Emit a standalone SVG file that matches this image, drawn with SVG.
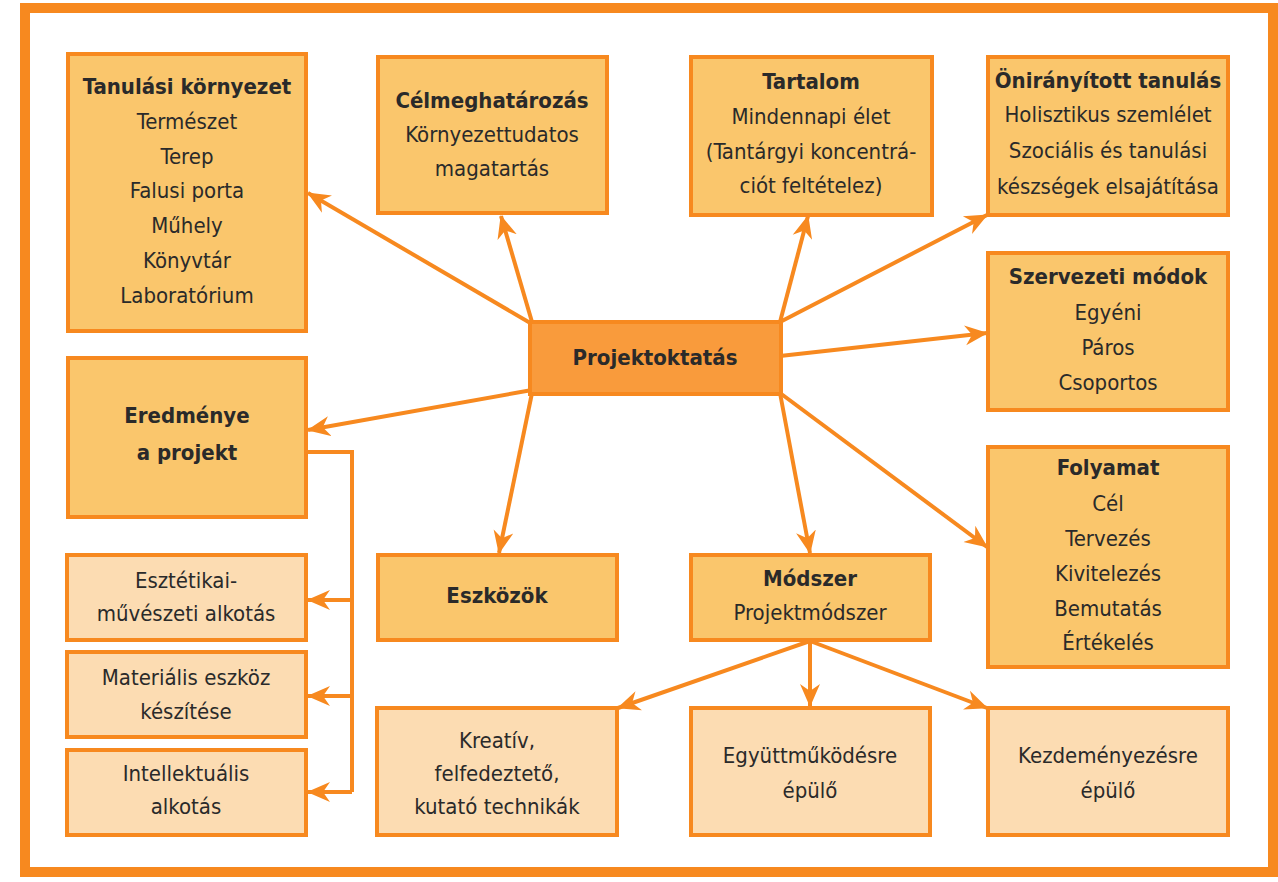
<svg xmlns="http://www.w3.org/2000/svg" width="1278" height="882" viewBox="0 0 1278 882">
<style>
.bx{fill:#fac66c;stroke:#f7891f;stroke-width:4}
.lt{fill:#fcdcb2;stroke:#f7891f;stroke-width:4}
.ct{fill:#f99b3c;stroke:#f7891f;stroke-width:4}
text{font-family:"DejaVu Sans Condensed","DejaVu Sans",sans-serif;font-size:22px;fill:#2a2a2a;text-anchor:middle}
.h{font-weight:bold}
.c line,.c path{stroke:#f7891f;stroke-width:4;fill:none}
</style>
<defs>
<marker id="a" markerUnits="userSpaceOnUse" markerWidth="26" markerHeight="22" refX="22" refY="11" orient="auto">
<path d="M0,1 L23,11 L0,21 L7,11 z" fill="#f7891f"/>
</marker>
</defs>
<rect x="25" y="8" width="1248" height="864" fill="#fff" stroke="#f7891f" stroke-width="10"/>
<g class="c">
<line x1="532" y1="324" x2="308" y2="193" marker-end="url(#a)"/>
<line x1="532" y1="322" x2="501" y2="216" marker-end="url(#a)"/>
<line x1="780" y1="322" x2="808" y2="216" marker-end="url(#a)"/>
<line x1="780" y1="322" x2="987" y2="215" marker-end="url(#a)"/>
<line x1="780" y1="356" x2="987" y2="333" marker-end="url(#a)"/>
<line x1="780" y1="393" x2="987" y2="547" marker-end="url(#a)"/>
<line x1="780" y1="393" x2="810" y2="553" marker-end="url(#a)"/>
<line x1="532" y1="393" x2="499" y2="553" marker-end="url(#a)"/>
<line x1="532" y1="390" x2="308" y2="430" marker-end="url(#a)"/>
<path d="M306,452 H352 V792"/>
<line x1="352" y1="600" x2="308" y2="600" marker-end="url(#a)"/>
<line x1="352" y1="696" x2="308" y2="696" marker-end="url(#a)"/>
<line x1="352" y1="792" x2="308" y2="792" marker-end="url(#a)"/>
<line x1="810" y1="641" x2="618" y2="708" marker-end="url(#a)"/>
<line x1="810" y1="641" x2="810" y2="706" marker-end="url(#a)"/>
<line x1="810" y1="641" x2="987" y2="708" marker-end="url(#a)"/>
</g>
<g id="tanulasi">
<rect class="bx" x="68" y="54" width="238" height="277"/>
<text class="h" x="187" y="94">Tanulási környezet</text>
<text x="187" y="129">Természet</text>
<text x="187" y="164">Terep</text>
<text x="187" y="198">Falusi porta</text>
<text x="187" y="233">Műhely</text>
<text x="187" y="268">Könyvtár</text>
<text x="187" y="303">Laboratórium</text>
</g>
<g id="celmeghatarozas">
<rect class="bx" x="378" y="57" width="229" height="156"/>
<text class="h" x="492" y="108">Célmeghatározás</text>
<text x="492" y="142">Környezettudatos</text>
<text x="492" y="176">magatartás</text>
</g>
<g id="tartalom">
<rect class="bx" x="691" y="57" width="241" height="158"/>
<text class="h" x="811" y="89">Tartalom</text>
<text x="811" y="124">Mindennapi élet</text>
<text x="811" y="159">(Tantárgyi koncentrá-</text>
<text x="811" y="193">ciót feltételez)</text>
</g>
<g id="oniranyitott">
<rect class="bx" x="988" y="57" width="240" height="158"/>
<text class="h" x="1108" y="88">Önirányított tanulás</text>
<text x="1108" y="122">Holisztikus szemlélet</text>
<text x="1108" y="158">Szociális és tanulási</text>
<text x="1108" y="194">készségek elsajátítása</text>
</g>
<g id="szervezeti">
<rect class="bx" x="988" y="253" width="240" height="157"/>
<text class="h" x="1108" y="284">Szervezeti módok</text>
<text x="1108" y="320">Egyéni</text>
<text x="1108" y="355">Páros</text>
<text x="1108" y="390">Csoportos</text>
</g>
<g id="folyamat">
<rect class="bx" x="988" y="447" width="240" height="220"/>
<text class="h" x="1108" y="475">Folyamat</text>
<text x="1108" y="511">Cél</text>
<text x="1108" y="546">Tervezés</text>
<text x="1108" y="581">Kivitelezés</text>
<text x="1108" y="616">Bemutatás</text>
<text x="1108" y="650">Értékelés</text>
</g>
<g id="projektoktatas">
<rect class="ct" x="530" y="322" width="251" height="72"/>
<text class="h" x="655" y="365">Projektoktatás</text>
</g>
<g id="eredmenye">
<rect class="bx" x="68" y="358" width="238" height="159"/>
<text class="h" x="187" y="423">Eredménye</text>
<text class="h" x="187" y="460">a projekt</text>
</g>
<g id="eszkozok">
<rect class="bx" x="378" y="555" width="239" height="85"/>
<text class="h" x="497" y="603">Eszközök</text>
</g>
<g id="modszer">
<rect class="bx" x="691" y="555" width="239" height="85"/>
<text class="h" x="810" y="586">Módszer</text>
<text x="810" y="620">Projektmódszer</text>
</g>
<g id="esztetikai">
<rect class="lt" x="67" y="555" width="239" height="85"/>
<text x="186" y="588">Esztétikai-</text>
<text x="186" y="621">művészeti alkotás</text>
</g>
<g id="materialis">
<rect class="lt" x="67" y="652" width="239" height="85"/>
<text x="186" y="685">Materiális eszköz</text>
<text x="186" y="719">készítése</text>
</g>
<g id="intellektualis">
<rect class="lt" x="67" y="750" width="239" height="85"/>
<text x="186" y="781">Intellektuális</text>
<text x="186" y="814">alkotás</text>
</g>
<g id="kreativ">
<rect class="lt" x="377" y="708" width="240" height="127"/>
<text x="497" y="748">Kreatív,</text>
<text x="497" y="781">felfedeztető,</text>
<text x="497" y="814">kutató technikák</text>
</g>
<g id="egyuttmukodes">
<rect class="lt" x="691" y="708" width="239" height="127"/>
<text x="810" y="763">Együttműködésre</text>
<text x="810" y="798">épülő</text>
</g>
<g id="kezdemenyezes">
<rect class="lt" x="988" y="708" width="240" height="127"/>
<text x="1108" y="763">Kezdeményezésre</text>
<text x="1108" y="798">épülő</text>
</g>
</svg>
